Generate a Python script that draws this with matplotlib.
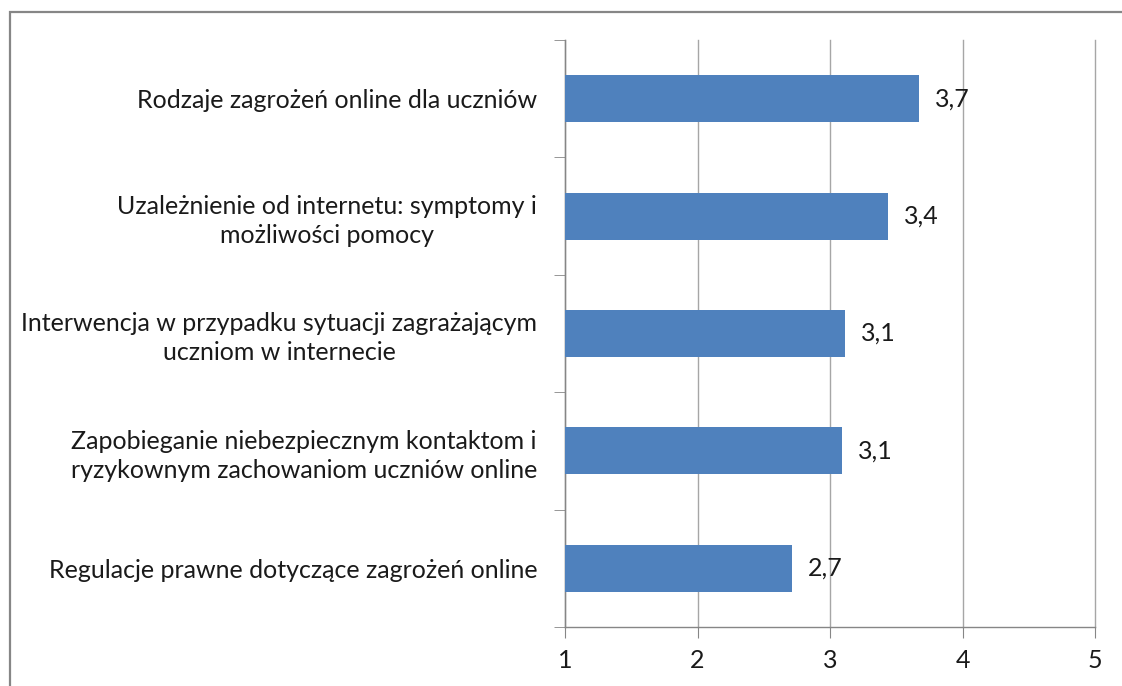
import matplotlib.pyplot as plt
from matplotlib.patches import Rectangle
import numpy as np

plt.rcParams['font.family'] = ['Lato', 'DejaVu Sans']

categories = [
    "Rodzaje zagrożeń online dla uczniów",
    "Uzależnienie od internetu: symptomy i\nmożliwości pomocy",
    "Interwencja w przypadku sytuacji zagrażającym\nuczniom w internecie",
    "Zapobieganie niebezpiecznym kontaktom i\nryzykownym zachowaniom uczniów online",
    "Regulacje prawne dotyczące zagrożeń online",
]
values = [3.67, 3.44, 3.11, 3.09, 2.71]
x_ticks = [1, 2, 3, 4, 5]

bar_color = "#4F81BD"
axis_color = "#868686"
grid_color = "#A6A6A6"
text_color = "#1a1a1a"
fs = 18

fig = plt.figure(figsize=(11.22, 6.86), dpi=100)
ax = fig.add_axes([565 / 1122, 1 - 627 / 686, 530 / 1122, 587 / 686])

# ramka wykresu (przycięta z prawej i od dołu)
fig.patches.append(Rectangle((10 / 1122, -0.1), 1.2, 1 - 12 / 686 + 0.1,
                             transform=fig.transFigure, fill=False,
                             edgecolor=axis_color, linewidth=1.6))

y = np.arange(len(categories))
ax.barh(y, np.array(values) - 1, left=1, height=0.4, color=bar_color, zorder=3)

for yi, v in zip(y, values):
    ax.text(v + 0.12, yi, f"{v:.1f}".replace(".", ","), va="center", ha="left",
            fontsize=fs, color=text_color)

ax.set_xlim(1, 5)
ax.set_ylim(len(categories) - 0.5, -0.5)
ax.set_xticks(x_ticks)
ax.set_xticklabels([str(t) for t in x_ticks], fontsize=fs, color=text_color)
ax.set_yticks(y)
ax.set_yticklabels(categories, fontsize=fs, color=text_color,
                   multialignment="center", linespacing=1.3)
ax.set_yticks(np.arange(-0.5, len(categories)), minor=True)

ax.tick_params(axis="y", which="major", length=0, pad=20)
ax.tick_params(axis="y", which="minor", length=8, color=axis_color, direction="out")
ax.tick_params(axis="x", which="major", length=8, color=axis_color, pad=8)

ax.grid(axis="x", color=grid_color, linewidth=1, zorder=0)
for gl in ax.get_xgridlines():
    gl.set_clip_on(False)
for s in ["top", "right"]:
    ax.spines[s].set_visible(False)
for s in ["left", "bottom"]:
    ax.spines[s].set_color(axis_color)
    ax.spines[s].set_linewidth(1)

fig.savefig("out.png", dpi=100)
